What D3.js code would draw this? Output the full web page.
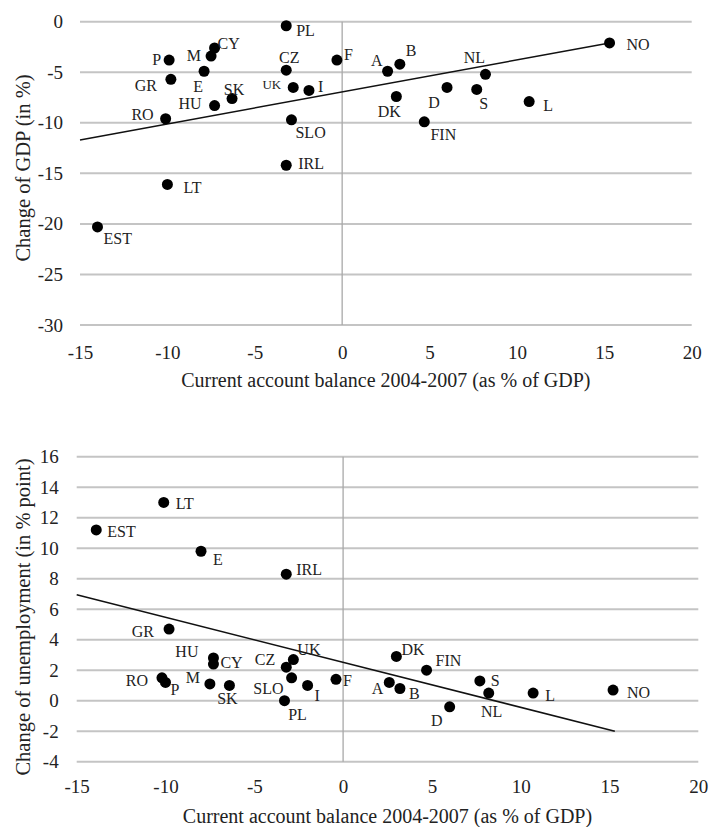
<!DOCTYPE html>
<html>
<head>
<meta charset="utf-8">
<script src="https://cdn.jsdelivr.net/npm/d3@7"></script>
<style>
  body { margin: 0; background: #fff; }
  text { font-family: "Liberation Serif", "DejaVu Serif", serif; fill: #222; }
</style>
</head>
<body>
<div id="chart"></div>
<script>
// country codes and current account balance 2004-2007 (x, same for both panels)
const gdpCountries = ["PL","CY","M","P","E","GR","HU","SK","RO","LT","CZ","UK","I","SLO","IRL","F","EST",
  "NO","A","B","NL","D","S","DK","L","FIN"];
const gdpBalance = [-3.2,-7.3,-7.5,-9.9,-7.9,-9.8,-7.3,-6.3,-10.1,-10.0,-3.2,-2.8,-1.9,-2.9,-3.2,-0.3,-14.0,
  15.3,2.6,3.3,8.2,6.0,7.7,3.1,10.7,4.7];
const gdpChange = [-0.4,-2.6,-3.4,-3.8,-4.9,-5.7,-8.3,-7.6,-9.6,-16.1,-4.8,-6.5,-6.8,-9.7,-14.2,-3.8,-20.3,
  -2.1,-4.9,-4.2,-5.2,-6.5,-6.7,-7.4,-7.9,-9.9];

const unempCountries = ["LT","EST","E","IRL","GR","HU","CY","RO","P","M","SK","CZ","UK","SLO","I","PL","F",
  "DK","FIN","A","B","D","S","NL","L","NO"];
const unempBalance = [-10.1,-13.9,-8.0,-3.2,-9.8,-7.3,-7.3,-10.2,-10.0,-7.5,-6.4,-3.2,-2.8,-2.9,-2.0,-3.3,-0.4,
  3.0,4.7,2.6,3.2,6.0,7.7,8.2,10.7,15.2];
const unempChange = [13.0,11.2,9.8,8.3,4.7,2.8,2.4,1.5,1.2,1.1,1.0,2.2,2.7,1.5,1.0,0.0,1.4,
  2.9,2.0,1.2,0.8,-0.4,1.3,0.5,0.5,0.7];

// trend lines (end points)
const trendX = [-15, 15.3];
const gdpTrend = [-11.7, -2.1];
const unempTrend = [6.95, -2.0];

const xTicks = [-15,-10,-5,0,5,10,15,20];
const gdpTicks = [0,-5,-10,-15,-20,-25,-30];
const unempTicks = [16,14,12,10,8,6,4,2,0,-2,-4];

// label placement: [anchor, dx, dy]
const gdpLabelPos = {
  PL:["start",10,10], CY:["start",3,1], M:["end",-10,5], P:["end",-8,5], E:["middle",-6,21],
  GR:["end",-14,12], HU:["end",-13,3], SK:["middle",2,-4], RO:["end",-12,1], LT:["start",16,9],
  CZ:["middle",3,-7], UK:["end",-12,2], I:["start",9,2], SLO:["start",4,18], IRL:["start",12,4],
  F:["start",7,0], EST:["start",6,17], NO:["start",17,7], A:["end",-5,-5], B:["start",6,-8],
  NL:["middle",-11,-11], D:["middle",-13,21], S:["middle",7,20], DK:["middle",-7,20],
  L:["start",14,9], FIN:["middle",19,18]
};
const unempLabelPos = {
  LT:["start",12,7], EST:["start",11,7], E:["start",12,14], IRL:["start",10,1], GR:["end",-15,8],
  HU:["end",-15,-1], CY:["start",7,4], RO:["end",-14,8], P:["start",5,13], M:["end",-10,-1],
  SK:["middle",-2,19], CZ:["end",-11,-2], UK:["start",4,-5], SLO:["end",-8,16], I:["start",7,16],
  PL:["middle",13,19], F:["start",7,7], DK:["start",5,-1], FIN:["start",9,-4], A:["end",-6,12],
  B:["start",9,10], D:["middle",-13,19], S:["start",11,5], NL:["middle",3,24], L:["start",12,8],
  NO:["start",14,8]
};

const W = 711, H = 827;
const svg = d3.select("#chart").append("svg").attr("width", W).attr("height", H);
const serif = "Liberation Serif";

function panel(opts) {
  const x = d3.scaleLinear().domain([-15, 20]).range([opts.left, opts.right]);
  const y = d3.scaleLinear().domain(opts.yDomain).range([opts.bottom, opts.top]);
  const g = svg.append("g");

  // horizontal gridlines
  g.selectAll("line.grid")
    .data(opts.yTicks)
    .enter().append("line")
    .attr("x1", opts.left).attr("x2", opts.right)
    .attr("y1", d => y(d)).attr("y2", d => y(d))
    .style("stroke", "#c4c4c4").style("stroke-width", 2);

  // vertical line at zero
  g.append("line")
    .attr("x1", x(0)).attr("x2", x(0))
    .attr("y1", opts.top).attr("y2", opts.bottom)
    .style("stroke", "#a8a8a8").style("stroke-width", 1.3);

  // y axis labels
  const yAxis = d3.axisLeft(y).tickValues(opts.yTicks).tickSize(0).tickPadding(opts.yPad)
    .tickFormat(d => String(d));
  const ya = g.append("g").attr("transform", `translate(${opts.left},0)`).call(yAxis)
    .attr("font-family", serif).attr("font-size", 19);
  ya.select(".domain").remove();
  ya.selectAll("text").attr("fill", "#222");

  // x axis labels
  const xAxis = d3.axisBottom(x).tickValues(xTicks).tickSize(0).tickPadding(opts.xPad)
    .tickFormat(d => String(d));
  const xa = g.append("g").attr("transform", `translate(0,${opts.bottom})`).call(xAxis)
    .attr("font-family", serif).attr("font-size", 19);
  xa.select(".domain").remove();
  xa.selectAll("text").attr("fill", "#222");

  // axis titles
  g.append("text")
    .attr("x", (opts.left + opts.right) / 2)
    .attr("y", opts.xTitleY)
    .attr("text-anchor", "middle")
    .style("font-size", "20px")
    .text("Current account balance 2004-2007 (as % of GDP)");
  g.append("text")
    .attr("transform", `translate(23,${opts.yTitleC}) rotate(-90)`)
    .attr("text-anchor", "middle")
    .attr("dy", "0.35em")
    .style("font-size", "20.5px")
    .text(opts.yTitle);

  // trend line
  g.append("line")
    .attr("x1", x(trendX[0])).attr("y1", y(opts.trend[0]))
    .attr("x2", x(trendX[1])).attr("y2", y(opts.trend[1]))
    .style("stroke", "#111").style("stroke-width", 1.5);

  // points
  g.selectAll("circle")
    .data(opts.xs)
    .enter().append("circle")
    .attr("cx", d => x(d))
    .attr("cy", (d, i) => y(opts.ys[i]))
    .attr("r", 5.5)
    .style("fill", "#000");

  // country labels
  g.selectAll("text.lbl")
    .data(opts.names)
    .enter().append("text")
    .attr("class", "lbl")
    .attr("x", (d, i) => x(opts.xs[i]) + opts.pos[d][1])
    .attr("y", (d, i) => y(opts.ys[i]) + opts.pos[d][2])
    .attr("text-anchor", d => opts.pos[d][0])
    .style("font-size", d => (d === "UK" && opts.smallUK) ? "13px" : "16px")
    .text(d => d);
}

panel({
  left: 80, right: 691.7, top: 21.7, bottom: 325,
  yDomain: [-30, 0], yTicks: gdpTicks, yPad: 17, xPad: 21, xTitleY: 387, yTitleC: 168,
  yTitle: "Change of GDP (in %)",
  xs: gdpBalance, ys: gdpChange, names: gdpCountries, pos: gdpLabelPos,
  trend: gdpTrend, smallUK: true
});

panel({
  left: 76.7, right: 698.3, top: 456.7, bottom: 761.7,
  yDomain: [-4, 16], yTicks: unempTicks, yPad: 18, xPad: 18, xTitleY: 823, yTitleC: 617,
  yTitle: "Change of unemployment (in % point)",
  xs: unempBalance, ys: unempChange, names: unempCountries, pos: unempLabelPos,
  trend: unempTrend, smallUK: false
});
</script>
</body>
</html>
